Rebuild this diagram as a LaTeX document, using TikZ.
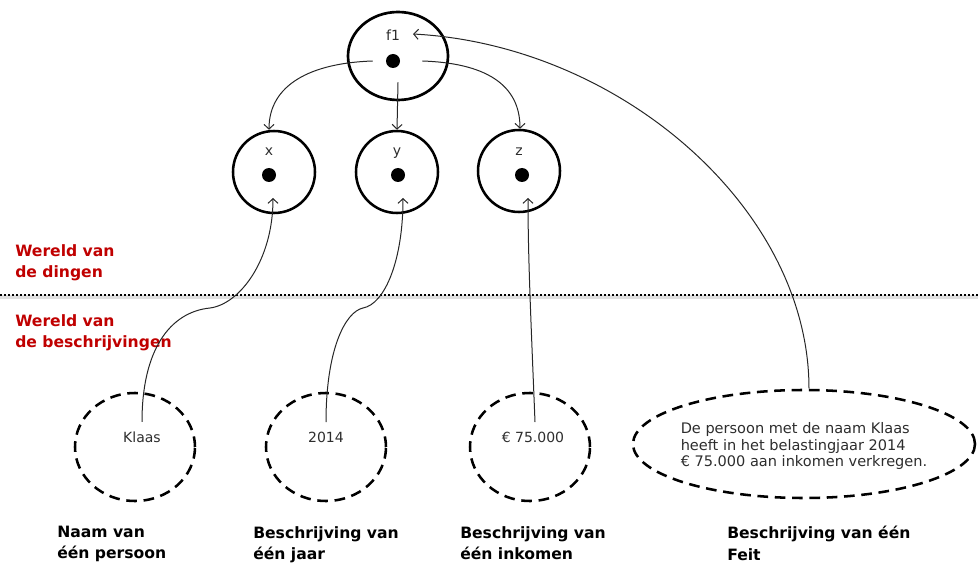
\documentclass[tikz,border=0pt]{standalone}
\usepackage{fontspec}
\setmainfont{DejaVu Sans}
\usetikzlibrary{arrows.meta, shapes.geometric, calc}
\definecolor{wereldrood}{RGB}{192,0,0}
\definecolor{tekstgrijs}{RGB}{45,45,45}
\tikzset{
  ding/.style={circle, draw, line width=1.9pt, minimum size=61.5pt, inner sep=0pt},
  feitding/.style={ellipse, draw, line width=2pt, minimum width=75pt, minimum height=66pt, inner sep=0pt},
  punt/.style={circle, fill=black, minimum size=10.5pt, inner sep=0pt},
  beschrijving/.style={ellipse, draw, line width=1.9pt, dash pattern=on 8pt off 5pt, minimum width=90pt, minimum height=81pt, inner sep=0pt},
  klein/.style={font=\fontsize{10.5}{12}\selectfont, text=tekstgrijs, inner sep=1pt},
  kop/.style={font=\bfseries\fontsize{11.7}{16}\selectfont, align=left, anchor=north west, inner sep=0pt},
  wereld/.style={kop, text=wereldrood},
  pijl/.style={-{Straight Barb[length=3.5pt,width=7.5pt]}, line width=0.75pt, draw=black!85},
  scheiding/.style={line width=2.2pt, dash pattern=on 1.8pt off 1.2pt},
}
\begin{document}
\begin{tikzpicture}[x=0.75pt, y=-0.75pt]
  \useasboundingbox (0,0) rectangle (978,563);
  % wereld van de dingen
  \node[feitding] (f1) at (398,56) {};
  \node[ding] (x) at (274,172) {};
  \node[ding] (y) at (397,172) {};
  \node[ding] (z) at (519,171) {};
  \node[punt] (f1dot) at (393,61) {};
  \node[punt] (xdot) at (269,175) {};
  \node[punt] (ydot) at (398,175) {};
  \node[punt] (zdot) at (522,175) {};
  \node[klein, anchor=base] (f1tekst) at (393,41) {f1};
  \node[klein, anchor=base] (xtekst) at (269,156) {x};
  \node[klein, anchor=base] (ytekst) at (397,156) {y};
  \node[klein, anchor=base] (ztekst) at (519,156) {z};
  % scheiding
  \coordinate (links) at (0,295);
  \coordinate (rechts) at (978,295);
  \draw[black!12, line width=3pt] ([yshift=-1.5pt]links) -- ([yshift=-1.5pt]rechts);
  \draw[scheiding] (links) -- (rechts);
  \node[wereld] (dingen) at (15,244) {Wereld van\\de dingen};
  \node[wereld] (beschr) at (15,314) {Wereld van\\de beschrijvingen};
  % wereld van de beschrijvingen
  \node[beschrijving] (klaasrand) at (135,447) {};
  \node[beschrijving] (jaarrand) at (326,447) {};
  \node[beschrijving] (inkomenrand) at (530,447) {};
  \node[beschrijving, minimum width=256.5pt] (feit) at (804,444) {};
  \node[klein, anchor=base] (klaas) at (142,442) {Klaas};
  \node[klein, anchor=base] (jaar) at (326,442) {2014};
  \node[klein, anchor=base] (inkomen) at (533,442) {€ 75.000};
  \node[klein, font=\fontsize{10.9}{12.2}\selectfont, align=left] (feittekst) at (804,446) {De persoon met de naam Klaas\\heeft in het belastingjaar 2014\\€ 75.000 aan inkomen verkregen.};
  \node[kop] (naam) at (57,526) {Naam van\\één persoon};
  \node[kop] (bjaar) at (253,526) {Beschrijving van\\één jaar};
  \node[kop] (binkomen) at (460,526) {Beschrijving van\\één inkomen};
  \node[kop] (bfeit) at (727,526) {Beschrijving van één\\Feit};
  % verbindingen
  \draw[pijl] ([xshift=-9.75pt]f1dot.west) .. controls +(-62,2) and +(0,-45) .. ([xshift=-3.75pt]x.north);
  \draw[pijl] ([xshift=3.75pt,yshift=-10.5pt]f1dot.south) -- (y.north);
  \draw[pijl] ([xshift=16.5pt]f1dot.east) .. controls +(62,2) and +(0,-45) .. ([xshift=0.75pt]z.north);
  \draw[pijl] ([yshift=6pt]klaas.north) .. controls +(0,-72) and +(-40,4) .. (210,308) .. controls +(30,-4) and +(0,62) .. ([xshift=-0.75pt,yshift=-19.5pt]x.center);
  \draw[pijl] ([yshift=6pt]jaar.north) .. controls +(0,-72) and +(-18,4) .. (363,308) .. controls +(22,-4) and +(0,62) .. ([xshift=4.5pt,yshift=-19.5pt]y.center);
  \draw[pijl] ([xshift=1.5pt,yshift=6pt]inkomen.north) .. controls +(-4,-100) and +(0,60) .. ([xshift=6.75pt,yshift=-20.25pt]z.center);
  \draw[pijl] ([xshift=3.75pt]feit.north) .. controls +(0,-180) and +(207,11) .. ([xshift=11.25pt,yshift=16.5pt]f1.center);
\end{tikzpicture}
\end{document}
